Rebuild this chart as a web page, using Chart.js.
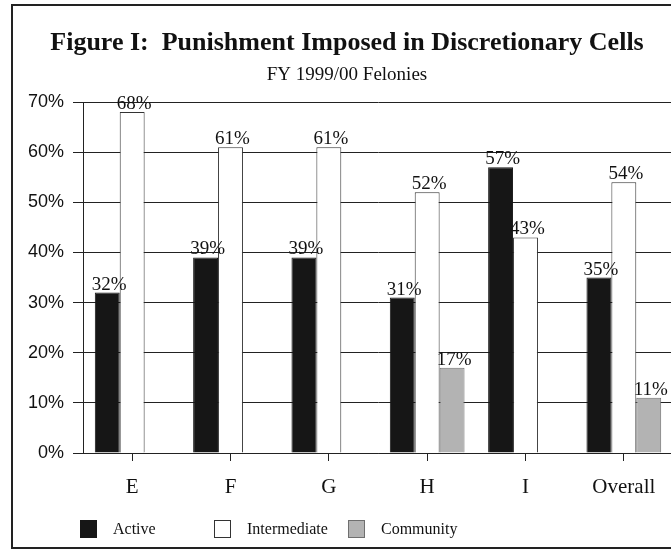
<!DOCTYPE html>
<html>
<head>
<meta charset="utf-8">
<script src="https://cdn.jsdelivr.net/npm/chart.js@4/dist/chart.umd.min.js"></script>
<style>
  html, body { margin: 0; padding: 0; background: #fff; overflow: hidden; }
  #wrap { width: 671px; height: 552px; overflow: hidden; }
</style>
</head>
<body>
<div id="wrap"><canvas id="chart" width="694" height="552"></canvas></div>
<script>
// data (percent of felony sentences)
const categories = ['E', 'F', 'G', 'H', 'I', 'Overall'];
const active = [32, 39, 39, 31, 57, 35];
const intermediate = [68, 61, 61, 52, 43, 54];
const community = [null, null, null, 17, null, 11];
const yMin = 0;
const yMax = 70;
const yStep = 10;
const titleText = 'Figure I:  Punishment Imposed in Discretionary Cells';
const subtitleText = 'FY 1999/00 Felonies';

const serif = '"Liberation Serif", "Times New Roman", serif';
const sans = '"Liberation Sans", Arial, sans-serif';

// outer frame + title lines
const framePlugin = {
    id: 'frame',
    beforeDraw(chart) {
        const ctx = chart.ctx;
        ctx.save();
        ctx.fillStyle = '#fff';
        ctx.fillRect(0, 0, chart.width, chart.height);
        ctx.strokeStyle = '#222';
        ctx.lineWidth = 2;
        ctx.strokeRect(12, 5, chart.width, 543);
        ctx.fillStyle = '#111';
        ctx.textAlign = 'center';
        ctx.textBaseline = 'alphabetic';
        ctx.font = 'bold 26px ' + serif;
        ctx.fillText(titleText, 347, 50);
        ctx.font = '19px ' + serif;
        ctx.fillText(subtitleText, 347, 80);
        ctx.restore();
    }
};

// percent labels above the bars
const valueLabels = {
    id: 'valueLabels',
    afterDatasetsDraw(chart) {
        const ctx = chart.ctx;
        ctx.save();
        ctx.font = '19px ' + serif;
        ctx.fillStyle = '#111';
        ctx.textAlign = 'center';
        ctx.textBaseline = 'alphabetic';
        chart.data.datasets.forEach((ds, i) => {
            chart.getDatasetMeta(i).data.forEach((bar, j) => {
                const v = ds.data[j];
                if (v == null) return;
                ctx.fillText(v + '%', bar.x + 2, bar.y - 3);
            });
        });
        ctx.restore();
    }
};

// legend row in fixed columns like the original
const legendRow = {
    id: 'legendRow',
    afterDraw(chart) {
        const ctx = chart.ctx;
        const left = chart.chartArea.left - 3;
        ctx.save();
        ctx.font = '16px ' + serif;
        ctx.textAlign = 'left';
        ctx.textBaseline = 'alphabetic';
        chart.data.datasets.forEach((ds, i) => {
            const x = left + i * 134;
            ctx.fillStyle = ds.backgroundColor;
            ctx.fillRect(x, 520, 17, 18);
            ctx.strokeStyle = ds.borderColor;
            ctx.lineWidth = 1;
            ctx.strokeRect(x + 0.5, 520.5, 16, 17);
            ctx.fillStyle = '#111';
            ctx.fillText(ds.label, x + 33, 534);
        });
        ctx.restore();
    }
};

new Chart(document.getElementById('chart'), {
    type: 'bar',
    data: {
        labels: categories,
        datasets: [
            {label: 'Active', data: active, backgroundColor: '#161616', borderColor: '#161616', borderWidth: 1},
            {label: 'Intermediate', data: intermediate, backgroundColor: '#ffffff', borderColor: '#333', borderWidth: 1},
            {label: 'Community', data: community, backgroundColor: '#b3b3b3', borderColor: '#6f6f6f', borderWidth: 1},
        ]
    },
    options: {
        responsive: false,
        animation: false,
        layout: {padding: {top: 102, right: 21, left: 0, bottom: 0}},
        datasets: {bar: {categoryPercentage: 0.76, barPercentage: 1}},
        plugins: {
            legend: {display: false},
            title: {display: false},
            tooltip: {enabled: false},
        },
        scales: {
            x: {
                grid: {offset: false, drawOnChartArea: false, color: '#222', tickLength: 8},
                border: {color: '#222', width: 1},
                ticks: {font: {family: serif, size: 21}, color: '#111', padding: 14},
                afterFit(s) { s.height = 99; },
            },
            y: {
                min: yMin,
                max: yMax,
                ticks: {stepSize: yStep, font: {family: sans, size: 18}, color: '#111', padding: 9,
                    callback: v => v + '%'},
                grid: {color: '#222', tickLength: 10},
                border: {color: '#222', width: 1},
                afterFit(s) { s.width = 83; },
            }
        }
    },
    plugins: [framePlugin, valueLabels, legendRow]
});
</script>
</body>
</html>
